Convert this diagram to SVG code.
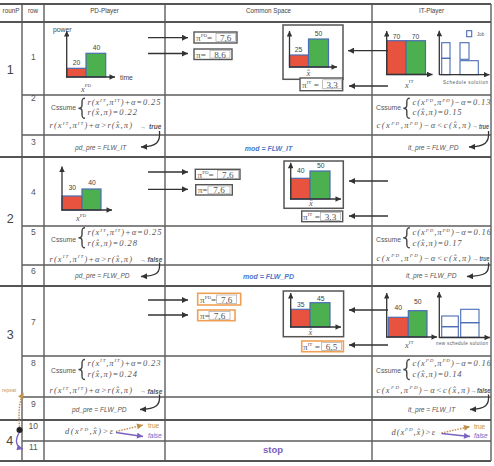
<svg xmlns="http://www.w3.org/2000/svg" width="494" height="466" viewBox="0 0 494 466">
<defs>
<style>
.g{stroke:#5e5e5e;stroke-width:1.4;fill:none}
.gt{stroke:#555;stroke-width:2;fill:none}
.hd{font-family:"Liberation Sans",Arial,sans-serif;font-size:6.3px;fill:#444}
.rn{font-family:"Liberation Sans",Arial,sans-serif;font-size:8.5px;fill:#555;text-anchor:middle}
.big{font-family:"Liberation Sans",Arial,sans-serif;font-size:12.5px;fill:#444;text-anchor:middle}
.m{font-family:"Liberation Serif","Times New Roman",serif;font-style:italic;font-size:8.5px;fill:#555}
.sp{font-size:5px}
.t{font-family:"Liberation Sans",Arial,sans-serif;font-size:6.8px;fill:#444}
.cs{font-family:"Liberation Sans",Arial,sans-serif;font-size:6.8px;fill:#555}
.pre{font-family:"Liberation Sans",Arial,sans-serif;font-style:italic;font-size:6.6px;fill:#555}
.mod{font-family:"Liberation Sans",Arial,sans-serif;font-style:italic;font-weight:bold;font-size:7px;fill:#4a78c8}
.tf{font-family:"Liberation Sans",Arial,sans-serif;font-style:italic;font-weight:bold;font-size:6.5px;fill:#555}
.arw{font-family:"Liberation Sans",Arial,sans-serif;font-size:6px;fill:#555}
.red{fill:#e8533f;stroke:#4a6cb4;stroke-width:1.2}
.grn{fill:#4cb04f;stroke:#4a6cb4;stroke-width:1.2}
.job{fill:none;stroke:#4a6cb4;stroke-width:1.1}
.ax{stroke:#333;stroke-width:1.3;fill:none;marker-end:url(#as)}
.ar{stroke:#333;stroke-width:1.3;fill:none;marker-end:url(#ah)}
.fr{fill:none;stroke:#555;stroke-width:1.5}
.pb{fill:#fff;stroke:#555;stroke-width:1.4}
.pbo{fill:#fff;stroke:#f0a055;stroke-width:1.6}
.pi{fill:none;stroke:#999;stroke-width:0.6}
.pt{font-family:"Liberation Serif","Times New Roman",serif;font-size:9.2px;fill:#555}
.br{fill:none;stroke:#444;stroke-width:1.4}
.tiny{font-family:"Liberation Sans",Arial,sans-serif;font-size:4.5px;fill:#555}
</style>
<marker id="ah" viewBox="0 0 10 10" refX="10" refY="5" markerWidth="8" markerHeight="6" markerUnits="userSpaceOnUse" orient="auto"><path d="M0,0L10,5L0,10z" fill="#333"/></marker>
<marker id="as" viewBox="0 0 10 10" refX="10" refY="5" markerWidth="7" markerHeight="5.5" markerUnits="userSpaceOnUse" orient="auto"><path d="M0,0L10,5L0,10z" fill="#333"/></marker>
<marker id="ao" viewBox="0 0 10 10" refX="10" refY="5" markerWidth="8" markerHeight="6" markerUnits="userSpaceOnUse" orient="auto"><path d="M0,0L10,5L0,10z" fill="#c0914a"/></marker>
<marker id="ap" viewBox="0 0 10 10" refX="10" refY="5" markerWidth="8" markerHeight="6" markerUnits="userSpaceOnUse" orient="auto"><path d="M0,0L10,5L0,10z" fill="#7a62c0"/></marker>
<path id="brace" class="br" d="M6.5,0C4,0 3.5,1 3.5,4L3.5,7C3.5,9 2,10 0,10C2,10 3.5,11 3.5,13L3.5,16C3.5,19 4,20 6.5,20"/>
</defs>
<rect width="494" height="466" fill="#fff"/>

<g id="grid">
<path class="g" d="M22,4V461M44,4V461M165,4V461M372,4V461M491,4V461"/>
<path class="gt" d="M0,4H491M0,22H491M0,157H491M0,286H491M0,420H491M0,461H491"/>
<path class="g" d="M22,95H491M22,135H491M22,226H491M22,265H491M22,356H491M22,397H491M22,441H491"/>
</g>

<g id="header">
<text class="hd" x="11" y="13.3" text-anchor="middle">rounP</text>
<text class="hd" x="33" y="13.3" text-anchor="middle">row</text>
<text class="hd" x="104.5" y="13" text-anchor="middle">PD-Player</text>
<text class="hd" x="268.5" y="13" text-anchor="middle">Common Space</text>
<text class="hd" x="431.5" y="13" text-anchor="middle">IT-Player</text>
</g>

<g id="rounds">
<text class="big" x="10.3" y="74">1</text>
<text class="big" x="10.3" y="222.7">2</text>
<text class="big" x="10.3" y="339">3</text>
<text class="big" x="9.7" y="445">4</text>
<text x="2" y="391.5" font-family="Liberation Sans, Arial, sans-serif" font-size="5px" fill="#c9955a">repeat</text>
<circle cx="19.5" cy="430" r="3" fill="#222"/>
</g>

<g id="rownums">
<text class="rn" x="33.3" y="60">1</text>
<text class="rn" x="33.3" y="101">2</text>
<text class="rn" x="33.3" y="145">3</text>
<text class="rn" x="33.3" y="195">4</text>
<text class="rn" x="33.3" y="235">5</text>
<text class="rn" x="33.3" y="274">6</text>
<text class="rn" x="33.3" y="325">7</text>
<text class="rn" x="33.3" y="366">8</text>
<text class="rn" x="33.3" y="406.7">9</text>
<text class="rn" x="33.3" y="429.3">10</text>
<text class="rn" x="33.3" y="450">11</text>
</g>

<!-- Row 1 -->
<g id="pd-chart-1">
<rect class="red" x="67" y="68.3" width="19" height="8.7"/>
<rect class="grn" x="86" y="53.3" width="19.7" height="23.7"/>
<line class="ax" x1="66.7" y1="77.5" x2="66.7" y2="31"/>
<line class="ax" x1="66" y1="77" x2="115" y2="77"/>
<text class="t" x="76.5" y="64.5" text-anchor="middle">20</text>
<text class="t" x="96.5" y="50" text-anchor="middle">40</text>
<text class="t" x="53" y="31.5">power</text>
<text class="t" x="120" y="80">time</text>
<text class="m" x="81" y="91.5">x<tspan class="sp" dy="-4.5" font-style="normal">PD</tspan></text>
</g>
<g id="pi-pd-1">
<rect class="pb" x="194" y="32" width="43" height="11"/>
<text class="pt" x="196" y="41">π<tspan class="sp" dy="-4">PD</tspan><tspan dy="4">=</tspan></text>
<rect class="pi" x="216" y="33.5" width="19.5" height="8"/>
<text class="pt" x="225.7" y="41" text-anchor="middle">7,6</text>
</g>
<g id="pi-1">
<rect class="pb" x="194" y="49" width="38" height="10.5"/>
<text class="pt" x="196" y="57.5">π=</text>
<rect class="pi" x="210" y="50.5" width="20" height="7.5"/>
<text class="pt" x="220" y="57.5" text-anchor="middle">8,6</text>
</g>
<g id="common-chart-1">
<rect class="fr" x="283" y="25" width="60" height="54.3"/>
<rect class="red" x="289.5" y="55" width="19" height="12"/>
<rect class="grn" x="308.5" y="39" width="20" height="28"/>
<line class="ax" x1="289.5" y1="67.5" x2="289.5" y2="31"/>
<line class="ax" x1="289" y1="67" x2="337" y2="67"/>
<text class="t" x="298.5" y="52" text-anchor="middle">25</text>
<text class="t" x="318.5" y="36" text-anchor="middle">50</text>
<text class="m" x="308.3" y="75.5" text-anchor="middle">x̂</text>
</g>
<g id="pi-it-1">
<rect class="pb" x="300" y="78" width="42.7" height="12.7"/>
<text class="pt" x="302" y="88">π<tspan class="sp" dy="-4">IT</tspan><tspan dy="4"> =</tspan></text>
<rect class="pi" x="322.7" y="79.8" width="19" height="9"/>
<text class="pt" x="332.2" y="88" text-anchor="middle">3,3</text>
</g>
<g id="it-chart-1">
<rect class="red" x="387" y="40.7" width="19" height="33.8"/>
<rect class="grn" x="406" y="40.7" width="19.5" height="33.8"/>
<line class="ax" x1="386.7" y1="75" x2="386.7" y2="31"/>
<line class="ax" x1="386" y1="74.5" x2="432.5" y2="74.5"/>
<text class="t" x="396.5" y="39" text-anchor="middle">70</text>
<text class="t" x="415.5" y="39" text-anchor="middle">70</text>
<text class="m" x="405" y="87.5">x<tspan class="sp" dy="-4.5" font-style="normal">IT</tspan></text>
</g>
<g id="schedule-1">
<rect class="job" x="441.7" y="42.7" width="8.3" height="15.6"/>
<rect class="job" x="441.7" y="58.3" width="8.3" height="16.4"/>
<rect class="job" x="460" y="42.7" width="9" height="16.6"/>
<rect class="job" x="460" y="60.7" width="18.3" height="14"/>
<line class="ax" x1="439.3" y1="75" x2="439.3" y2="30.7"/>
<line class="ax" x1="439" y1="74.7" x2="489.5" y2="74.7"/>
<rect class="job" x="466.7" y="30.7" width="5" height="6"/>
<text class="tiny" x="477" y="35.5">Job</text>
<text class="tiny" x="443" y="83.5" textLength="45" lengthAdjust="spacing">Schedule solution</text>
</g>

<!-- Row 2 -->
<g id="pd-cond-2">
<text class="cs" x="51" y="110">Cssume</text>
<use href="#brace" x="78.5" y="98.3"/>
<text class="m" x="87.5" y="105" textLength="73" lengthAdjust="spacing">r(x<tspan class="sp" dy="-3.5">IT</tspan><tspan dy="3.5">,π</tspan><tspan class="sp" dy="-3.5">IT</tspan><tspan dy="3.5">)+α=0.25</tspan></text>
<text class="m" x="87.5" y="115" textLength="49.5" lengthAdjust="spacing">r(x̂,π)=0.22</text>
<text class="m" x="49.5" y="128" textLength="82.5" lengthAdjust="spacing">r(x<tspan class="sp" dy="-3.5">IT</tspan><tspan dy="3.5">,π</tspan><tspan class="sp" dy="-3.5">IT</tspan><tspan dy="3.5">)+α&gt;r(x̂,π)</tspan></text>
<text class="arw" x="140" y="128.5">→</text>
<text class="tf" x="149" y="129.3">true</text>
</g>
<g id="it-cond-2">
<text class="cs" x="376" y="110">Cssume</text>
<use href="#brace" x="403.3" y="98.3"/>
<text class="m" x="412.5" y="105" textLength="78" lengthAdjust="spacing">c(x<tspan class="sp" dy="-3.5">PD</tspan><tspan dy="3.5">,π</tspan><tspan class="sp" dy="-3.5">PD</tspan><tspan dy="3.5">)−α=0.13</tspan></text>
<text class="m" x="412.5" y="115" textLength="49" lengthAdjust="spacing">c(x̂,π)=0.15</text>
<text class="m" x="376.5" y="128" textLength="94" lengthAdjust="spacing">c(x<tspan class="sp" dy="-3.5">PD</tspan><tspan dy="3.5">,π</tspan><tspan class="sp" dy="-3.5">PD</tspan><tspan dy="3.5">)−α&lt;c(x̂,π)</tspan></text>
<text class="arw" x="472" y="128">→</text>
<text class="tf" x="479" y="128.5" textLength="10" lengthAdjust="spacingAndGlyphs">true</text>
</g>

<!-- Row 3 -->
<text id="pd-pre-3" class="pre" x="75" y="150">pd_pre = FLW_IT</text>
<text id="mod-3" class="mod" x="268.5" y="151" text-anchor="middle">mod = FLW_IT</text>
<text id="it-pre-3" class="pre" x="408" y="150">it_pre = FLW_PD</text>

<!-- Row 4 -->
<g id="pd-chart-4">
<rect class="red" x="62" y="196" width="20" height="14"/>
<rect class="grn" x="82" y="189" width="19" height="21"/>
<line class="ax" x1="62" y1="210.5" x2="62" y2="166.5"/>
<line class="ax" x1="61.5" y1="210" x2="112" y2="210"/>
<text class="t" x="72.3" y="190" text-anchor="middle">30</text>
<text class="t" x="92" y="185" text-anchor="middle">40</text>
<text class="m" x="76" y="221">x<tspan class="sp" dy="-4.5" font-style="normal">PD</tspan></text>
</g>
<g id="pi-pd-4">
<rect class="pb" x="195.3" y="169.3" width="44.7" height="10"/>
<text class="pt" x="197.5" y="177.5">π<tspan class="sp" dy="-4">PD</tspan><tspan dy="4">=</tspan></text>
<rect class="pi" x="217.3" y="170.6" width="21" height="7.6"/>
<text class="pt" x="227.8" y="177.5" text-anchor="middle">7,6</text>
</g>
<g id="pi-4">
<rect class="pb" x="195.7" y="184.7" width="36.6" height="10.3"/>
<text class="pt" x="197.7" y="193">π=</text>
<rect class="pi" x="208" y="186" width="22" height="7.8"/>
<text class="pt" x="219" y="193" text-anchor="middle">7,6</text>
</g>
<g id="common-chart-4">
<rect class="fr" x="284" y="161" width="59.3" height="47.3"/>
<rect class="red" x="291" y="178.3" width="19" height="20.7"/>
<rect class="grn" x="310" y="171" width="20" height="28"/>
<line class="ax" x1="290.7" y1="199.5" x2="290.7" y2="162.7"/>
<line class="ax" x1="290" y1="199" x2="341" y2="199"/>
<text class="t" x="300.8" y="172.7" text-anchor="middle">40</text>
<text class="t" x="320.8" y="168" text-anchor="middle">50</text>
<text class="m" x="311" y="205.5" text-anchor="middle">x̂</text>
</g>
<g id="pi-it-4">
<rect class="pb" x="301.7" y="211" width="41" height="10.7"/>
<text class="pt" x="303" y="219.5">π<tspan class="sp" dy="-4">IT</tspan><tspan dy="4"> =</tspan></text>
<rect class="pi" x="320.5" y="212.3" width="20" height="8"/>
<text class="pt" x="330.5" y="219.5" text-anchor="middle">3,3</text>
</g>

<!-- Row 5 -->
<g id="pd-cond-5">
<text class="cs" x="51" y="241.5">Cssume</text>
<use href="#brace" x="78.5" y="227.8"/>
<text class="m" x="87.5" y="235" textLength="74" lengthAdjust="spacing">r(x<tspan class="sp" dy="-3.5">IT</tspan><tspan dy="3.5">,π</tspan><tspan class="sp" dy="-3.5">IT</tspan><tspan dy="3.5">)+α=0.25</tspan></text>
<text class="m" x="87.5" y="245.5" textLength="49.5" lengthAdjust="spacing">r(x̂,π)=0.28</text>
<text class="m" x="49.5" y="261.5" textLength="82.5" lengthAdjust="spacing">r(x<tspan class="sp" dy="-3.5">IT</tspan><tspan dy="3.5">,π</tspan><tspan class="sp" dy="-3.5">IT</tspan><tspan dy="3.5">)+α&gt;r(x̂,π)</tspan></text>
<text class="arw" x="140" y="261.5">→</text>
<text class="tf" x="147.5" y="262">false</text>
</g>
<g id="it-cond-5">
<text class="cs" x="376" y="241.5">Cssume</text>
<use href="#brace" x="403.3" y="227.8"/>
<text class="m" x="412.5" y="235" textLength="78.5" lengthAdjust="spacing">c(x<tspan class="sp" dy="-3.5">PD</tspan><tspan dy="3.5">,π</tspan><tspan class="sp" dy="-3.5">PD</tspan><tspan dy="3.5">)−α=0.16</tspan></text>
<text class="m" x="412.5" y="245.5" textLength="49" lengthAdjust="spacing">c(x̂,π)=0.17</text>
<text class="m" x="376.5" y="260.5" textLength="94" lengthAdjust="spacing">c(x<tspan class="sp" dy="-3.5">PD</tspan><tspan dy="3.5">,π</tspan><tspan class="sp" dy="-3.5">PD</tspan><tspan dy="3.5">)−α&lt;c(x̂,π)</tspan></text>
<text class="arw" x="472.5" y="260.5">→</text>
<text class="tf" x="479.5" y="260.5" textLength="10" lengthAdjust="spacingAndGlyphs">true</text>
</g>

<!-- Row 6 -->
<text id="pd-pre-6" class="pre" x="75" y="278">pd_pre = FLW_PD</text>
<text id="mod-6" class="mod" x="268.5" y="278.5" text-anchor="middle">mod = FLW_PD</text>
<text id="it-pre-6" class="pre" x="406" y="278">it_pre = FLW_PD</text>

<!-- Row 7 -->
<g id="pi-pd-7">
<rect class="pbo" x="197.7" y="293.3" width="43" height="11.7"/>
<text class="pt" x="200" y="302.5">π<tspan class="sp" dy="-4">PD</tspan><tspan dy="4">=</tspan></text>
<rect class="pi" x="216.7" y="295" width="20" height="8.3"/>
<text class="pt" x="226.7" y="302.5" text-anchor="middle">7,6</text>
</g>
<g id="pi-7">
<rect class="pbo" x="197.7" y="310" width="37.3" height="10.7"/>
<text class="pt" x="200" y="318.5">π=</text>
<rect class="pi" x="209" y="311.5" width="21" height="7.7"/>
<text class="pt" x="219.5" y="318.5" text-anchor="middle">7,6</text>
</g>
<g id="common-chart-7">
<rect class="fr" x="283.3" y="291" width="60.3" height="45.7"/>
<rect class="red" x="291" y="309.3" width="19" height="17.7"/>
<rect class="grn" x="310" y="302.7" width="20" height="24.3"/>
<line class="ax" x1="290.7" y1="327.5" x2="290.7" y2="293"/>
<line class="ax" x1="290" y1="327" x2="341" y2="327"/>
<text class="t" x="300.8" y="306.7" text-anchor="middle">35</text>
<text class="t" x="320.8" y="301" text-anchor="middle">45</text>
<text class="m" x="310.5" y="334.5" text-anchor="middle">x̂</text>
</g>
<g id="pi-it-7">
<rect class="pbo" x="301.7" y="341" width="41.7" height="10.7"/>
<text class="pt" x="303" y="349.5">π<tspan class="sp" dy="-4">IT</tspan><tspan dy="4"> =</tspan></text>
<rect class="pi" x="321.7" y="342.5" width="19.7" height="7.8"/>
<text class="pt" x="331.5" y="349.5" text-anchor="middle">6,5</text>
</g>
<g id="it-chart-7">
<rect class="red" x="388.3" y="317.3" width="20" height="19.7"/>
<rect class="grn" x="408.3" y="310.7" width="18.7" height="26.3"/>
<line class="ax" x1="386.7" y1="337.5" x2="386.7" y2="293"/>
<line class="ax" x1="386" y1="337" x2="437" y2="337"/>
<text class="t" x="398.3" y="310" text-anchor="middle">40</text>
<text class="t" x="417.8" y="304" text-anchor="middle">50</text>
<text class="m" x="405" y="348">x<tspan class="sp" dy="-4.5" font-style="normal">IT</tspan></text>
</g>
<g id="schedule-7">
<rect class="job" x="441.7" y="316" width="16.6" height="10.7"/>
<rect class="job" x="441.7" y="326.7" width="16.6" height="10.6"/>
<rect class="job" x="460.7" y="309.3" width="18.3" height="13.4"/>
<rect class="job" x="460.7" y="322.7" width="18.3" height="14.6"/>
<line class="ax" x1="439.3" y1="338" x2="439.3" y2="292"/>
<line class="ax" x1="439" y1="337.5" x2="490" y2="337.5"/>
<text class="tiny" x="436" y="345" font-size="4px" textLength="52" lengthAdjust="spacing">new schedule solution</text>
</g>

<!-- Row 8 -->
<g id="pd-cond-8">
<text class="cs" x="51" y="372.5">Cssume</text>
<use href="#brace" x="78.5" y="359.5"/>
<text class="m" x="87.5" y="365.5" textLength="73" lengthAdjust="spacing">r(x<tspan class="sp" dy="-3.5">IT</tspan><tspan dy="3.5">,π</tspan><tspan class="sp" dy="-3.5">IT</tspan><tspan dy="3.5">)+α=0.23</tspan></text>
<text class="m" x="87.5" y="376.5" textLength="49.5" lengthAdjust="spacing">r(x̂,π)=0.24</text>
<text class="m" x="49.5" y="393" textLength="82.5" lengthAdjust="spacing">r(x<tspan class="sp" dy="-3.5">IT</tspan><tspan dy="3.5">,π</tspan><tspan class="sp" dy="-3.5">IT</tspan><tspan dy="3.5">)+α&gt;r(x̂,π)</tspan></text>
<text class="arw" x="140" y="393">→</text>
<text class="tf" x="147.5" y="393.5">false</text>
</g>
<g id="it-cond-8">
<text class="cs" x="376" y="372.5">Cssume</text>
<use href="#brace" x="403.3" y="359.5"/>
<text class="m" x="412.5" y="365.5" textLength="78.5" lengthAdjust="spacing">c(x<tspan class="sp" dy="-3.5">PD</tspan><tspan dy="3.5">,π</tspan><tspan class="sp" dy="-3.5">PD</tspan><tspan dy="3.5">)−α=0.16</tspan></text>
<text class="m" x="412.5" y="376.5" textLength="49" lengthAdjust="spacing">c(x̂,π)=0.14</text>
<text class="m" x="376.5" y="392.5" textLength="93" lengthAdjust="spacing">c(x<tspan class="sp" dy="-3.5">PD</tspan><tspan dy="3.5">,π</tspan><tspan class="sp" dy="-3.5">PD</tspan><tspan dy="3.5">)−α&lt;c(x̂,π)</tspan></text>
<text class="arw" x="470.5" y="392.5">→</text>
<text class="tf" x="477" y="392.5" textLength="13.5" lengthAdjust="spacingAndGlyphs">false</text>
</g>

<!-- Row 9 -->
<text id="pd-pre-9" class="pre" x="72" y="411.5">pd_pre = FLW_PD</text>
<text id="it-pre-9" class="pre" x="408" y="411.5">it_pre = FLW_IT</text>

<!-- Row 10 -->
<g id="pd-check-10">
<text class="m" x="65" y="434" textLength="48" lengthAdjust="spacing">d(x<tspan class="sp" dy="-3.5">PD</tspan><tspan dy="3.5">,x̂)&gt;ε</tspan></text>
<text x="148" y="428.3" font-family="Liberation Sans, Arial, sans-serif" font-size="6.5px" fill="#c0914a">true</text>
<text x="148" y="438" font-family="Liberation Sans, Arial, sans-serif" font-style="italic" font-size="6.5px" fill="#7a62c0">false</text>
</g>
<g id="it-check-10">
<text class="m" x="391.5" y="434.5" textLength="43.5" lengthAdjust="spacing">d(x<tspan class="sp" dy="-3.5">PD</tspan><tspan dy="3.5">,x̂)&gt;ε</tspan></text>
<text x="474" y="428.5" font-family="Liberation Sans, Arial, sans-serif" font-size="6.5px" fill="#c0914a">true</text>
<text x="474" y="438" font-family="Liberation Sans, Arial, sans-serif" font-style="italic" font-size="6.5px" fill="#7a62c0">false</text>
</g>

<!-- Row 11 -->
<text id="stop-11" x="263" y="452.5" font-family="Liberation Sans, Arial, sans-serif" font-weight="bold" font-size="9.5px" fill="#7a62c0">stop</text>

<g id="connectors">
<line class="ar" x1="148" y1="37.7" x2="188" y2="37.7"/>
<line class="ar" x1="148" y1="53.5" x2="188" y2="53.5"/>
<line class="ar" x1="388" y1="50.7" x2="348" y2="50.7"/>
<line class="ar" x1="388" y1="86" x2="349" y2="86"/>
<line class="ar" x1="148" y1="172" x2="188" y2="172"/>
<line class="ar" x1="148" y1="189.3" x2="188" y2="189.3"/>
<line class="ar" x1="388" y1="181" x2="349" y2="181"/>
<line class="ar" x1="388" y1="216" x2="349" y2="216"/>
<line class="ar" x1="148" y1="300" x2="188" y2="300"/>
<line class="ar" x1="148" y1="315" x2="188" y2="315"/>
<line class="ar" x1="388" y1="310" x2="349" y2="310"/>
<line class="ar" x1="388" y1="345" x2="349" y2="345"/>
<path class="ar" d="M159.5,131C160.5,142 157,146.5 141,147"/>
<path class="ar" d="M488.5,131C489.5,142 486,146.5 469,147"/>
<path class="ar" d="M159.5,262.5C160.5,273 157,276 141,276.5"/>
<path class="ar" d="M488.5,262.5C489.5,273 486,276 467,276.5"/>
<path class="ar" d="M159.5,394.5C160.5,405 157,409 140,409.5"/>
<path class="ar" d="M488.5,394.5C489.5,405 486,409 470,409.5"/>
<line x1="116" y1="431.5" x2="143" y2="425" stroke="#c0914a" stroke-width="1.4" stroke-dasharray="1.5,1.2" marker-end="url(#ao)"/>
<line x1="116" y1="432.5" x2="143" y2="436.5" stroke="#7a62c0" stroke-width="1.4" marker-end="url(#ap)"/>
<line x1="441.5" y1="433" x2="470" y2="426.5" stroke="#c0914a" stroke-width="1.4" stroke-dasharray="1.5,1.2" marker-end="url(#ao)"/>
<line x1="441.5" y1="433.5" x2="470" y2="436.5" stroke="#7a62c0" stroke-width="1.4" marker-end="url(#ap)"/>
<path d="M19.5,427C18.5,412 19,401 23.5,392.5" fill="none" stroke="#c0914a" stroke-width="1.4" stroke-dasharray="1.5,1.2" marker-end="url(#ao)"/>
<path d="M19,433C15,440 15.5,447 23,449" fill="none" stroke="#7a62c0" stroke-width="1.4" marker-end="url(#ap)"/>
</g>
</svg>
